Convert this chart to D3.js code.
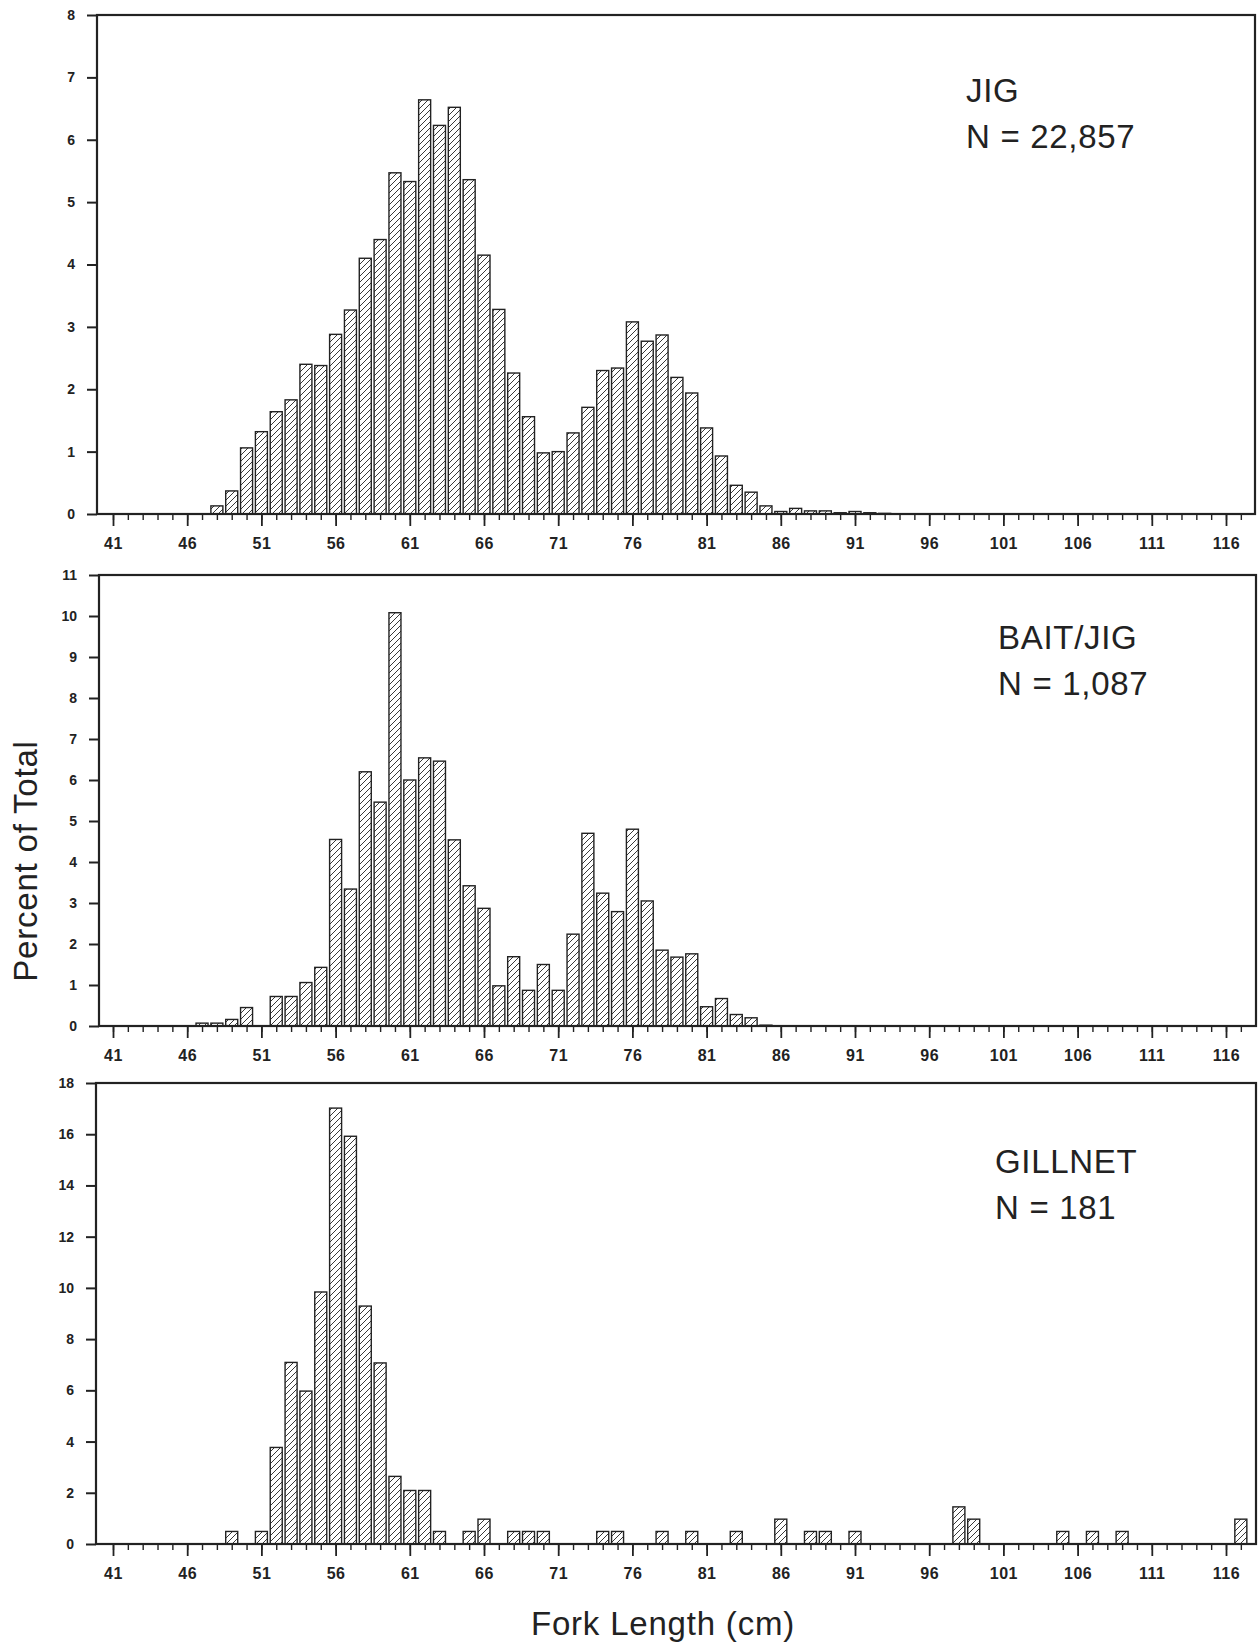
<!DOCTYPE html>
<html>
<head>
<meta charset="utf-8">
<script src="https://cdn.jsdelivr.net/npm/d3@7"></script>
<style>
  body { margin: 0; background: #fff; }
  svg { display: block; }
</style>
</head>
<body>
<div id="chart"></div>
<script>
// fork length classes (cm) and percent of total
var jigLengths = d3.range(48, 94);
var jigPct = [0.13, 0.37, 1.06, 1.32, 1.64, 1.83, 2.40, 2.38, 2.88, 3.27,
              4.10, 4.40, 5.47, 5.33, 6.64, 6.23, 6.52, 5.36, 4.15, 3.28,
              2.26, 1.56, 0.98, 1.00, 1.30, 1.71, 2.30, 2.34, 3.08, 2.77,
              2.87, 2.19, 1.94, 1.38, 0.93, 0.46, 0.35, 0.13, 0.04, 0.09,
              0.05, 0.05, 0.02, 0.04, 0.02, 0.01];

var baitLengths = [47, 48, 49, 50, 52, 53, 54, 55, 56, 57, 58, 59, 60, 61, 62, 63, 64, 65, 66,
                   67, 68, 69, 70, 71, 72, 73, 74, 75, 76, 77, 78, 79, 80, 81, 82, 83, 84, 85];
var baitPct = [0.07, 0.07, 0.16, 0.45, 0.72, 0.72, 1.06, 1.43, 4.55, 3.34, 6.20, 5.46, 10.08,
               6.00, 6.54, 6.46, 4.54, 3.42, 2.87, 0.98, 1.69, 0.87, 1.50, 0.87, 2.24, 4.70,
               3.24, 2.79, 4.80, 3.05, 1.85, 1.68, 1.76, 0.47, 0.67, 0.28, 0.20, 0.02];

var gillLengths = [49, 51, 52, 53, 54, 55, 56, 57, 58, 59, 60, 61, 62, 63, 65, 66, 68, 69, 70,
                   74, 75, 78, 80, 83, 86, 88, 89, 91, 98, 99, 105, 107, 109, 117];
var gillPct = [0.49, 0.49, 3.77, 7.09, 5.97, 9.84, 17.02, 15.92, 9.29, 7.07, 2.64, 2.09, 2.09,
               0.49, 0.49, 0.97, 0.49, 0.49, 0.49, 0.49, 0.49, 0.49, 0.49, 0.49, 0.97, 0.49,
               0.49, 0.49, 1.45, 0.97, 0.49, 0.49, 0.49, 0.97];

var xMajorTicks = d3.range(41, 117, 5);   // 41, 46, ... 116
var xMinorTicks = d3.range(41, 118);
var jigYTicks = d3.range(0, 9);
var baitYTicks = d3.range(0, 12);
var gillYTicks = d3.range(0, 19, 2);

var panels = [
  {lengths: jigLengths, pct: jigPct, yTicks: jigYTicks, yMax: 8,
   title: "JIG", n: "N = 22,857",
   left: 97, right: 1255, top: 15, bottom: 514, tx: 966, ty: 102},
  {lengths: baitLengths, pct: baitPct, yTicks: baitYTicks, yMax: 11,
   title: "BAIT/JIG", n: "N = 1,087",
   left: 99, right: 1256, top: 575, bottom: 1026, tx: 998, ty: 649},
  {lengths: gillLengths, pct: gillPct, yTicks: gillYTicks, yMax: 18,
   title: "GILLNET", n: "N = 181",
   left: 96, right: 1256, top: 1083, bottom: 1544, tx: 995, ty: 1173}
];

var width = 1259, height = 1647;
var svg = d3.select("#chart").append("svg")
    .attr("width", width).attr("height", height);

// hatch fill used by every bar
svg.append("defs").append("pattern")
    .attr("id", "hatch")
    .attr("patternUnits", "userSpaceOnUse")
    .attr("width", 6).attr("height", 6)
  .append("path")
    .attr("d", "M-1,1 L1,-1 M0,6 L6,0 M5,7 L7,5")
    .attr("stroke", "#222")
    .attr("stroke-width", 0.9);

var x = d3.scaleLinear().domain([41, 116]).range([113, 1226]);
var barW = 12;

panels.forEach(function(p) {
  var y = d3.scaleLinear().domain([0, p.yMax]).range([p.bottom, p.top]);
  var g = svg.append("g");

  var bars = p.lengths.map(function(d, i) { return {len: d, pct: p.pct[i]}; });

  g.selectAll("rect.bar")
    .data(bars)
    .enter().append("rect")
      .attr("class", "bar")
      .attr("x", function(d) { return x(d.len) - barW / 2; })
      .attr("y", function(d) { return y(d.pct); })
      .attr("width", barW)
      .attr("height", function(d) { return p.bottom - y(d.pct); })
      .attr("fill", "url(#hatch)")
      .attr("stroke", "#222")
      .attr("stroke-width", 1.4);

  // frame
  g.append("rect")
    .attr("x", p.left).attr("y", p.top)
    .attr("width", p.right - p.left).attr("height", p.bottom - p.top)
    .attr("fill", "none")
    .attr("stroke", "#222")
    .attr("stroke-width", 2.2);

  // y axis
  var yAxis = g.append("g")
      .attr("transform", "translate(" + p.left + ",0)")
      .call(d3.axisLeft(y).tickValues(p.yTicks).tickSize(10).tickPadding(12)
            .tickFormat(d3.format("d")));
  yAxis.select(".domain").remove();
  yAxis.selectAll("line").attr("stroke", "#222").attr("stroke-width", 2);
  yAxis.selectAll("text")
      .style("font", "bold 14px 'Liberation Sans', Arial, sans-serif")
      .attr("fill", "#222");

  // x axis: minor ticks every cm, major every 5 cm with labels
  var xMinor = g.append("g")
      .attr("transform", "translate(0," + p.bottom + ")")
      .call(d3.axisBottom(x).tickValues(xMinorTicks).tickSize(6).tickFormat(""));
  xMinor.select(".domain").remove();
  xMinor.selectAll("line").attr("stroke", "#222").attr("stroke-width", 1.4);

  var xMajor = g.append("g")
      .attr("transform", "translate(0," + p.bottom + ")")
      .call(d3.axisBottom(x).tickValues(xMajorTicks).tickSize(12).tickPadding(12)
            .tickFormat(d3.format("d")));
  xMajor.select(".domain").remove();
  xMajor.selectAll("line").attr("stroke", "#222").attr("stroke-width", 1.8);
  xMajor.selectAll("text")
      .style("font", "bold 16px 'Liberation Sans', Arial, sans-serif")
      .style("letter-spacing", "0.5px")
      .attr("fill", "#222");

  // gear label
  g.append("text")
      .attr("x", p.tx).attr("y", p.ty)
      .text(p.title)
      .style("font", "33px 'Liberation Sans', Arial, sans-serif")
      .style("letter-spacing", "0.7px")
      .attr("fill", "#222");
  g.append("text")
      .attr("x", p.tx).attr("y", p.ty + 46)
      .text(p.n)
      .style("font", "33px 'Liberation Sans', Arial, sans-serif")
      .style("letter-spacing", "0.7px")
      .attr("fill", "#222");
});

svg.append("text")
    .attr("transform", "translate(37,861) rotate(-90)")
    .attr("text-anchor", "middle")
    .text("Percent of Total")
    .style("font", "33px 'Liberation Sans', Arial, sans-serif")
    .style("letter-spacing", "0.8px")
    .attr("fill", "#222");

svg.append("text")
    .attr("x", 663).attr("y", 1635)
    .attr("text-anchor", "middle")
    .text("Fork Length (cm)")
    .style("font", "33px 'Liberation Sans', Arial, sans-serif")
    .style("letter-spacing", "0.8px")
    .attr("fill", "#222");
</script>
</body>
</html>
